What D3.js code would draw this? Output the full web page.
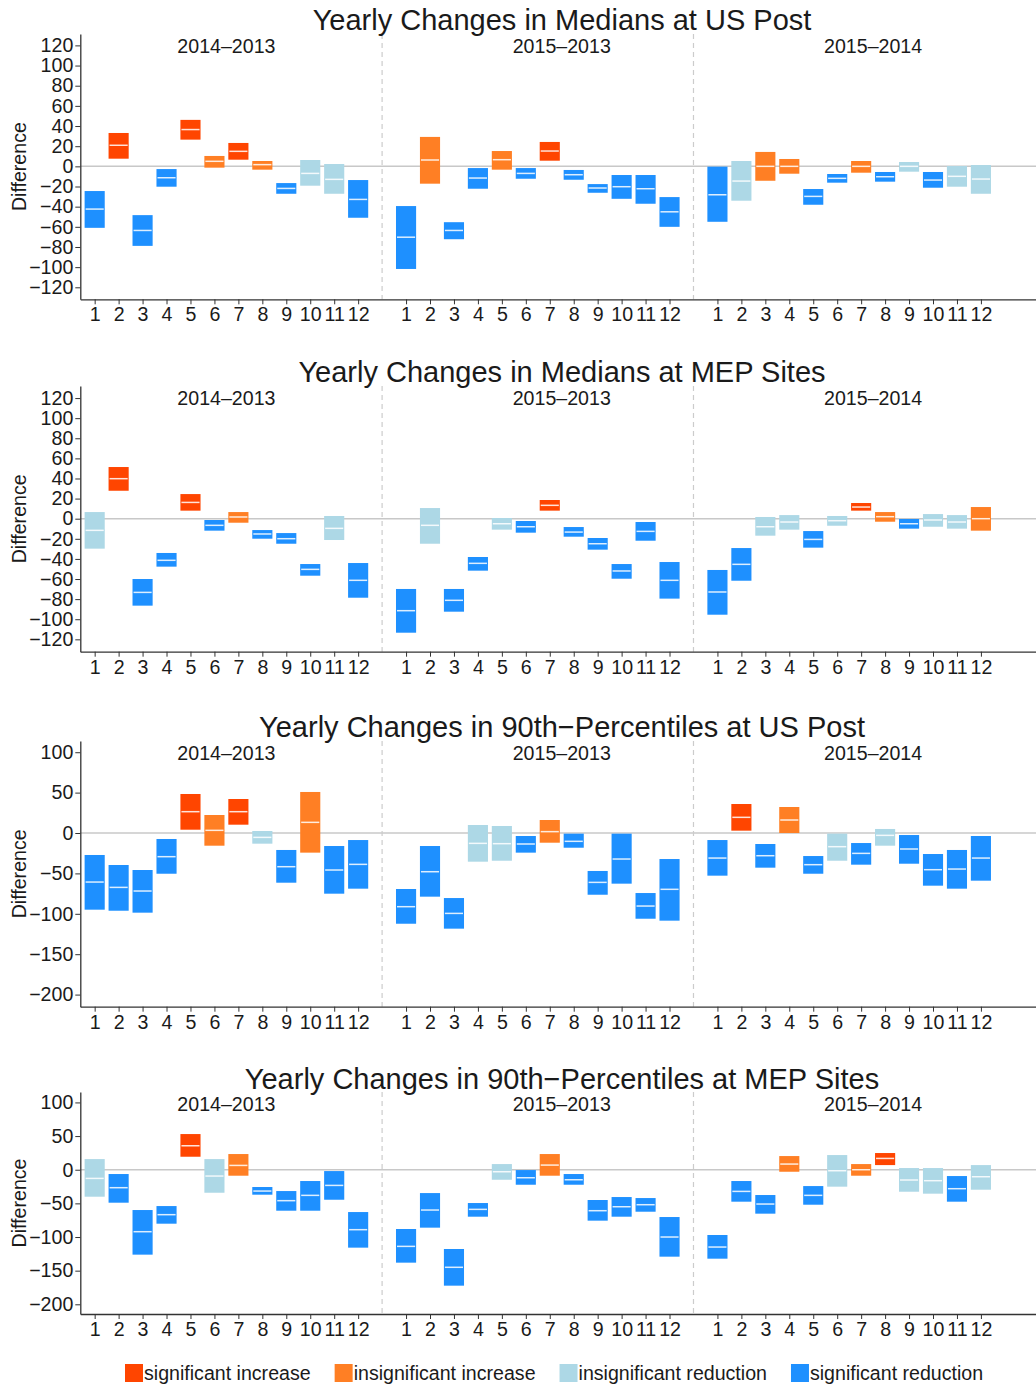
<!doctype html>
<html>
<head>
<meta charset="utf-8">
<style>
  body { margin: 0; background: #fff; }
  svg text { font-family: "Liberation Sans", Arial, Helvetica, sans-serif; fill: #1a1a1a; }
  .tick line { stroke: #333; }
  .domain { stroke: #333; }
</style>
<script src="https://d3js.org/d3.v7.min.js"></script>
</head>
<body>
<svg width="1036" height="1388"></svg>
<script>
// ---- data ----
var months = d3.range(1, 13);
var groups = ["2014\u20132013", "2015\u20132013", "2015\u20132014"];
var groupLabelPos = [6.5, 20.5, 33.5];
var categories = ["significant increase", "insignificant increase", "insignificant reduction", "significant reduction"];
var catColors = ["#FF4500", "#FF7F24", "#ADD8E6", "#1E90FF"];
var titles = [
  "Yearly Changes in Medians at US Post",
  "Yearly Changes in Medians at MEP Sites",
  "Yearly Changes in 90th\u2212Percentiles at US Post",
  "Yearly Changes in 90th\u2212Percentiles at MEP Sites"
];
var ticksMedian = d3.range(-120, 121, 20);
var ticksP90 = d3.range(-200, 101, 50);

// category codes: 0 sig inc, 1 insig inc, 2 insig red, 3 sig red
// Medians at US Post (2014-2013, 2015-2013, 2015-2014; months 1..12)
var medUsHigh = [-24.5, 33.1, -48.4, -2.7, 46.1, 10.3, 23.2, 5.3, -16.6, 6.3, 2.3, -13.6,
                 -39.4, 29.2, -55.4, -1.7, 15.2, -1.7, 24.2, -3.6, -17.6, -8.6, -8.6, -30.5,
                 -0.3, 5.3, 14.3, 7.3, -22.5, -7.6, 5.3, -5.6, 4.3, -5.6, 0.3, 1.3];
var medUsMid  = [-42.4, 20.9, -63.6, -11.3, 36.5, 5, 14.9, 1.7, -21.9, -7, -12.9, -32.8,
                 -70.3, 6.3, -63.6, -11.6, 6.6, -7, 15.2, -8.3, -21.5, -20.2, -22.2, -45.1,
                 -28.2, -14.6, 0, 0, -29.8, -11.9, 0, -10.3, 0, -13.6, -9.9, -12.6];
var medUsLow  = [-61, 7.6, -78.9, -20.2, 26.5, -1.3, 6.6, -3.3, -27.2, -19.2, -27.2, -51,
                 -101.8, -17.2, -72.3, -22.2, -3.3, -12.3, 5.6, -13.3, -26.2, -32.2, -37.1, -60,
                 -55, -34.1, -14.3, -7.3, -38.1, -16.2, -6.3, -15.2, -5.3, -21.2, -20.2, -27.2];
var medUsCat  = [3, 0, 3, 3, 0, 1, 0, 1, 3, 2, 2, 3,
                 3, 1, 3, 3, 1, 3, 0, 3, 3, 3, 3, 3,
                 3, 2, 1, 1, 3, 3, 1, 3, 2, 3, 2, 2];

// Medians at MEP Sites
var medMepHigh = [6.6, 51.4, -60, -34.1, 24.5, -1.3, 6.6, -11.3, -14.3, -45.1, 2.7, -44.1,
                  -69.9, 10.6, -69.9, -38.1, 0.7, -2.3, 18.6, -8.3, -19.2, -45.1, -3.3, -43.1,
                  -51, -29.2, 1.7, 3.6, -12.3, 2.7, 15.6, 6.6, -0.3, 4.6, 3.6, 11.6];
var medMepMid  = [-11.6, 39.8, -73.3, -41.4, 16.2, -6.6, 1.7, -15.2, -19.9, -50.4, -9.6, -61.3,
                  -91.5, -6.6, -81.2, -44.4, -5, -8, 13.3, -13.3, -24.9, -52, -12.6, -61.3,
                  -72.9, -45.4, -8, -3.3, -20.6, -2, 11.6, 2, -5, -1.3, -3.3, 0];
var medMepLow  = [-29.8, 27.8, -86.5, -47.7, 8, -11.9, -4, -19.9, -24.9, -56.7, -21.2, -78.6,
                  -113.4, -24.9, -92.5, -51.7, -10.9, -13.9, 8, -17.9, -30.8, -59.7, -21.9, -79.5,
                  -95.5, -61.7, -16.9, -10.9, -28.8, -7, 8, -3, -9.9, -8, -9.9, -11.9];
var medMepCat  = [2, 0, 3, 3, 0, 3, 1, 3, 3, 3, 2, 3,
                  3, 2, 3, 3, 2, 3, 0, 3, 3, 3, 3, 3,
                  3, 3, 2, 2, 3, 2, 0, 1, 3, 2, 2, 1];

// 90th percentiles at US Post
var p90UsHigh = [-27.2, -39.6, -45.8, -7.4, 48.3, 22.3, 42.1, 2.5, -21, 50.8, -16.1, -8.7,
                 -69.3, -16.1, -80.5, 9.9, 8.7, -3.7, 16.1, -0.8, -47, -0.8, -74.3, -32.2,
                 -8.7, 35.9, -13.6, 32.2, -28.5, -0.8, -12.4, 5, -2.5, -26, -21, -3.7];
var p90UsMid  = [-60.7, -67.3, -71.8, -29.3, 26.4, 3.3, 26.4, -5.4, -41.7, 13.2, -45.8, -38.8,
                 -91.2, -47.9, -99.5, -12.8, -13.2, -13.6, 1.7, -10.3, -61.1, -32.2, -90.4, -69.7,
                 -31, 19.4, -28.1, 16.1, -39.2, -16.9, -25.2, -2.9, -19.8, -45.4, -44.6, -31];
var p90UsLow  = [-94.9, -96.2, -98.6, -50.4, 4.1, -15.7, 10.3, -13.2, -61.5, -24.3, -75.1, -68.9,
                 -112.3, -78.8, -118.4, -35.5, -34.3, -24.3, -12, -18.2, -76.4, -62.7, -106.1, -108.5,
                 -52.8, 2.9, -42.9, 0, -50.4, -34.3, -39.2, -15.7, -38, -65.2, -68.9, -59];
var p90UsCat  = [3, 3, 3, 3, 0, 1, 0, 2, 3, 1, 3, 3,
                 3, 3, 3, 2, 2, 3, 1, 3, 3, 3, 3, 3,
                 3, 0, 3, 1, 3, 2, 3, 2, 3, 3, 3, 3];

// 90th percentiles at MEP Sites
var p90MepHigh = [15.8, -6.4, -59.9, -54, 53, 15.8, 23.3, -25.7, -31.7, -16.8, -2, -62.9,
                  -88.1, -34.7, -117.8, -49.5, 8.4, -0.5, 23.3, -6.4, -45, -40.6, -42.1, -70.3,
                  -97, -16.8, -37.6, 20.3, -24.3, 21.8, 8.4, 24.8, 2.5, 2.5, -9.4, 6.9];
var p90MepMid  = [-12.9, -26.7, -92.1, -66.8, 35.6, -9.4, 6.4, -31.7, -46, -38.1, -23.3, -89.1,
                  -113.9, -59.9, -145, -58.9, -3, -11.9, 6.9, -14.9, -60.9, -55, -52, -100,
                  -114.9, -32.2, -51, 8.4, -38.1, -1.5, 0, 16.8, -15.3, -16.3, -28.2, -10.4];
var p90MepLow  = [-40.1, -49, -126.2, -80.2, 19.3, -34.2, -8.9, -37.1, -60.9, -60.9, -44.6, -115.8,
                  -138.1, -86.1, -172.3, -69.8, -14.9, -22.3, -8.9, -22.3, -75.7, -69.8, -62.4, -129.2,
                  -132.2, -47.5, -65.3, -3, -52, -25.2, -8.9, 6.9, -32.7, -35.6, -47.5, -29.7];
var p90MepCat  = [2, 3, 3, 3, 0, 2, 1, 3, 3, 3, 3, 3,
                  3, 3, 3, 3, 2, 3, 1, 3, 3, 3, 3, 3,
                  3, 3, 3, 1, 3, 2, 1, 0, 2, 2, 3, 2];

// ---- layout ----
var svg = d3.select("svg");
var x = d3.scaleLinear().domain([0.4, 40.3]).range([80.3, 1036]);
var halfBar = 0.42;
var smallFont = "19.6px";

var panels = [
  { title: titles[0], low: medUsLow, mid: medUsMid, high: medUsHigh, cat: medUsCat,
    top: 34, bottom: 299.3, domain: [-131.9, 131.3], ticks: ticksMedian, titleY: 30 },
  { title: titles[1], low: medMepLow, mid: medMepMid, high: medMepHigh, cat: medMepCat,
    top: 386, bottom: 651.7, domain: [-132.3, 132], ticks: ticksMedian, titleY: 382 },
  { title: titles[2], low: p90UsLow, mid: p90UsMid, high: p90UsHigh, cat: p90UsCat,
    top: 741, bottom: 1006.7, domain: [-215, 113.9], ticks: ticksP90, titleY: 737 },
  { title: titles[3], low: p90MepLow, mid: p90MepMid, high: p90MepHigh, cat: p90MepCat,
    top: 1092, bottom: 1314, domain: [-214.4, 115.5], ticks: ticksP90, titleY: 1089 }
];

var positions = [];
groups.forEach(function(g, gi) {
  months.forEach(function(m) { positions.push(gi * 13 + m); });
});

panels.forEach(function(p) {
  var y = d3.scaleLinear().domain(p.domain).range([p.bottom, p.top]);
  var g = svg.append("g");

  // zero line
  g.append("line")
   .attr("x1", x.range()[0]).attr("x2", x.range()[1])
   .attr("y1", y(0)).attr("y2", y(0))
   .attr("stroke", "#c8c8c8").attr("stroke-width", 1.5);

  // group separators
  [13, 26].forEach(function(s) {
    g.append("line")
     .attr("x1", x(s)).attr("x2", x(s))
     .attr("y1", p.top).attr("y2", p.bottom)
     .attr("stroke", "#cccccc").attr("stroke-width", 1.2)
     .attr("stroke-dasharray", "5,4");
  });

  var rows = positions.map(function(pos, i) {
    return { pos: pos, low: p.low[i], mid: p.mid[i], high: p.high[i], cat: p.cat[i] };
  });

  g.selectAll(".bar")
   .data(rows)
   .enter().append("rect")
   .attr("class", "bar")
   .attr("x", function(d) { return x(d.pos - halfBar); })
   .attr("width", function(d) { return x(d.pos + halfBar) - x(d.pos - halfBar); })
   .attr("y", function(d) { return y(d.high); })
   .attr("height", function(d) { return y(d.low) - y(d.high); })
   .attr("fill", function(d) { return catColors[d.cat]; });

  g.selectAll(".med")
   .data(rows)
   .enter().append("line")
   .attr("class", "med")
   .attr("x1", function(d) { return x(d.pos - halfBar) + 1; })
   .attr("x2", function(d) { return x(d.pos + halfBar) - 1; })
   .attr("y1", function(d) { return y(d.mid); })
   .attr("y2", function(d) { return y(d.mid); })
   .attr("stroke", "#ffffff").attr("stroke-opacity", 0.85).attr("stroke-width", 1.5);

  // axes
  var ya = g.append("g")
   .attr("transform", "translate(" + x.range()[0] + ",0)")
   .call(d3.axisLeft(y).tickValues(p.ticks).tickSize(5).tickSizeOuter(0).tickPadding(2));
  ya.selectAll("text").attr("font-size", smallFont).attr("font-family", null);
  ya.select(".domain").attr("stroke", "#111").attr("stroke-width", 1.3);

  var xa = g.append("g")
   .attr("transform", "translate(0," + p.bottom + ")")
   .call(d3.axisBottom(x).tickValues(positions)
         .tickFormat(function(d, i) { return months[i % 12]; })
         .tickSize(5).tickSizeOuter(0).tickPadding(3));
  xa.selectAll("text").attr("font-size", smallFont).attr("font-family", null);
  xa.select(".domain").attr("stroke", "#444").attr("stroke-width", 1.3);
  xa.selectAll(".tick line").attr("stroke", "#888");
  ya.selectAll(".tick line").attr("stroke", "#888");

  // group labels
  groups.forEach(function(lbl, gi) {
    g.append("text")
     .attr("x", x(groupLabelPos[gi]))
     .attr("y", p.top + 19)
     .attr("text-anchor", "middle")
     .attr("font-size", smallFont)
     .text(lbl);
  });

  // title
  g.append("text")
   .attr("x", 562)
   .attr("y", p.titleY)
   .attr("text-anchor", "middle")
   .attr("font-size", "29px")
   .text(p.title);

  // y label
  g.append("text")
   .attr("transform", "translate(26," + ((p.top + p.bottom) / 2) + ") rotate(-90)")
   .attr("text-anchor", "middle")
   .attr("font-size", smallFont)
   .text("Difference");
});

// legend
var lx = 125;
categories.forEach(function(c, i) {
  svg.append("rect")
     .attr("x", lx).attr("y", 1364)
     .attr("width", 18).attr("height", 18)
     .attr("fill", catColors[i]);
  var t = svg.append("text")
     .attr("x", lx + 19).attr("y", 1380)
     .attr("font-size", smallFont)
     .text(c);
  lx += 19 + t.node().getComputedTextLength() + 24;
});
</script>
</body>
</html>
